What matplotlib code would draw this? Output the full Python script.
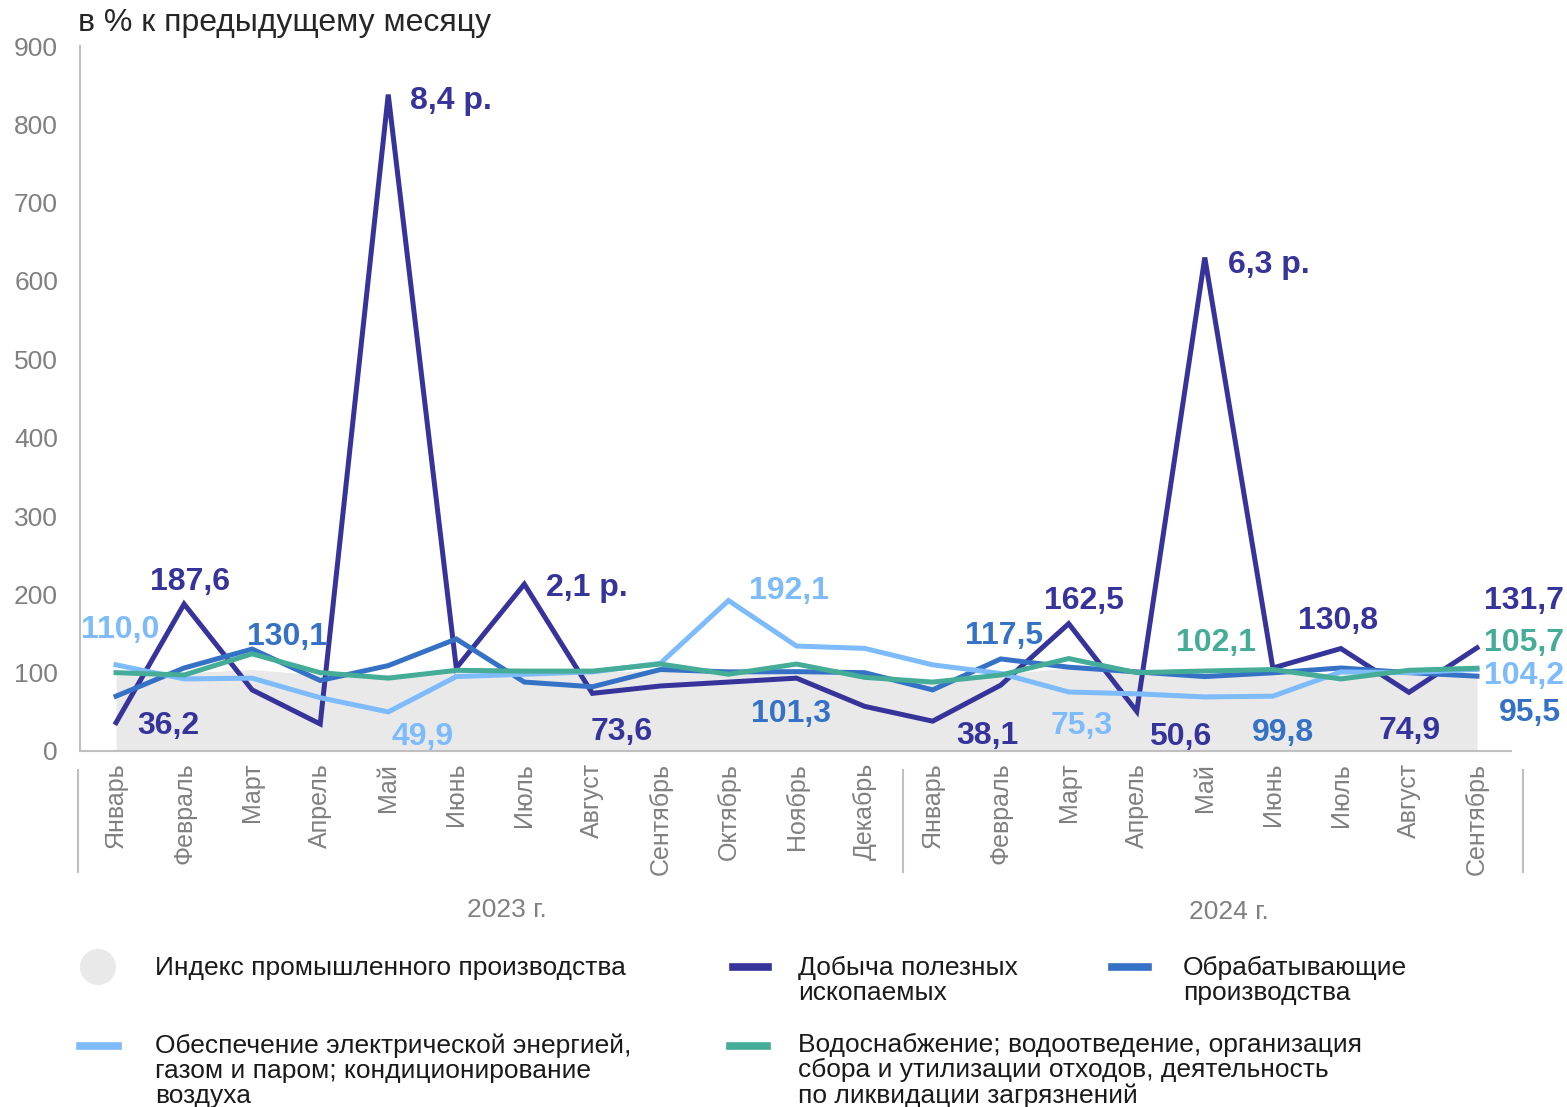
import matplotlib
matplotlib.use("Agg")
import matplotlib.pyplot as plt
from matplotlib.lines import Line2D
from matplotlib.patches import Ellipse
import matplotlib.transforms as mtransforms

plt.rcParams['font.family'] = ['Liberation Sans', 'DejaVu Sans']

months = ["Январь", "Февраль", "Март", "Апрель", "Май", "Июнь", "Июль", "Август",
          "Сентябрь", "Октябрь", "Ноябрь", "Декабрь",
          "Январь", "Февраль", "Март", "Апрель", "Май", "Июнь", "Июль", "Август", "Сентябрь"]
years = ["2023 г.", "2024 г."]

index_ipp = [97, 100, 104, 97, 98, 102, 100, 101, 103, 101, 100, 101,
             88, 98, 106, 100, 99, 102, 99, 101, 100]
mining = [36.2, 187.6, 78, 34.5, 838, 106, 213, 73.6, 83, 88, 93, 57,
          38.1, 84, 162.5, 50.6, 630, 106, 130.8, 74.9, 131.7]
manufacturing = [70, 106, 130.1, 90, 109, 143, 88, 82, 104, 101, 101.3, 100,
                 78, 117.5, 107, 101, 95, 99.8, 106, 100, 95.5]
electricity = [110.0, 92, 93, 68, 49.9, 95, 98, 101, 112, 192.1, 134, 131,
               110, 99, 75.3, 73, 69, 70, 101, 100, 104.2]
water = [100, 97, 124, 100, 93, 103, 102, 102, 111, 98, 111, 94,
         88, 97, 118, 100, 102.1, 104, 92, 103, 105.7]

series_names = ["Индекс промышленного производства",
                "Добыча полезных\nископаемых",
                "Обрабатывающие\nпроизводства",
                "Обеспечение электрической энергией,\nгазом и паром; кондиционирование\nвоздуха",
                "Водоснабжение; водоотведение, организация\nсбора и утилизации отходов, деятельность\nпо ликвидации загрязнений"]

C_IDX = "#E9E9E9"
C_MIN = "#36349A"
C_MAN = "#3572C5"
C_ELE = "#7DBBFB"
C_WAT = "#45AC97"
C_GRAY = "#808080"
C_AX = "#BFBFBF"

W, H = 1567, 1107
fig = plt.figure(figsize=(W / 100, H / 100), dpi=100)
ax = fig.add_axes([80 / W, (H - 751) / H, (1511 - 80) / W, (751 - 46) / H])

x = list(range(len(months)))
ax.fill_between(x, 0, index_ipp, color=C_IDX, lw=0, zorder=1)
lw = 3.6
ax.plot(x, mining, color=C_MIN, lw=lw, zorder=3, solid_joinstyle='miter')
ax.plot(x, manufacturing, color=C_MAN, lw=lw, zorder=4, solid_joinstyle='miter')
ax.plot(x, electricity, color=C_ELE, lw=lw, zorder=5, solid_joinstyle='miter')
ax.plot(x, water, color=C_WAT, lw=lw, zorder=6, solid_joinstyle='miter')

ax.set_xlim(-0.53, 20.5)
ax.set_ylim(0, 900)
ax.set_yticks(range(0, 901, 100))
ax.tick_params(axis='y', length=0, pad=15.8, labelsize=19, labelcolor=C_GRAY)
ax.set_xticks(x)
ax.set_xticklabels(months, rotation=90, va='top', ha='center')
ax.tick_params(axis='x', length=0, pad=8.5, labelsize=18, labelcolor=C_GRAY)
for s in ['top', 'right']:
    ax.spines[s].set_visible(False)
for s in ['left', 'bottom']:
    ax.spines[s].set_color(C_AX)
    ax.spines[s].set_linewidth(1.5)

# group separators
trans = mtransforms.blended_transform_factory(ax.transData, ax.transAxes)
for xs in [-0.56, 11.57, 20.68]:
    ax.add_line(Line2D([xs, xs], [-0.027, -0.172], transform=trans, color=C_AX,
                       lw=1.5, clip_on=False))
ax.text(5.75, -0.225, years[0], transform=trans, ha='center', va='center',
        fontsize=19, color=C_GRAY)
ax.text(16.36, -0.228, years[1], transform=trans, ha='center', va='center',
        fontsize=19, color=C_GRAY)

# data labels: (text, series, index, dx, dy, color, ha)
labels = [
    ("187,6", mining, 1, 6, 25, C_MIN, 'center'),
    ("36,2", mining, 0, 52, 0, C_MIN, 'center'),
    ("110,0", electricity, 0, 4, 38, C_ELE, 'center'),
    ("130,1", manufacturing, 2, 35, 15, C_MAN, 'center'),
    ("49,9", electricity, 4, 34, -22, C_ELE, 'center'),
    ("8,4 р.", mining, 4, 22, -3, C_MIN, 'left'),
    ("2,1 р.", mining, 6, 22, -1, C_MIN, 'left'),
    ("73,6", mining, 7, 29, -36, C_MIN, 'center'),
    ("192,1", electricity, 9, 60, 13, C_ELE, 'center'),
    ("101,3", manufacturing, 10, -6, -39, C_MAN, 'center'),
    ("117,5", manufacturing, 13, 3, 26, C_MAN, 'center'),
    ("162,5", mining, 14, 15, 26, C_MIN, 'center'),
    ("38,1", mining, 12, 55, -12, C_MIN, 'center'),
    ("75,3", electricity, 14, 13, -31, C_ELE, 'center'),
    ("102,1", water, 16, 11, 31, C_WAT, 'center'),
    ("50,6", mining, 15, 43, -23, C_MIN, 'center'),
    ("6,3 р.", mining, 16, 23, -4, C_MIN, 'left'),
    ("99,8", manufacturing, 17, 10, -57, C_MAN, 'center'),
    ("130,8", mining, 18, -3, 31, C_MIN, 'center'),
    ("74,9", mining, 19, 1, -36, C_MIN, 'center'),
    ("131,7", mining, 20, 47, 50, C_MIN, 'center'),
    ("105,7", water, 20, 47, 28, C_WAT, 'center'),
    ("104,2", electricity, 20, 47, -4, C_ELE, 'center'),
    ("95,5", manufacturing, 20, 53, -34, C_MAN, 'center'),
]
for txt, ser, i, dx, dy, col, ha in labels:
    ax.annotate(txt, xy=(i, ser[i]), xytext=(dx, dy - 3), textcoords='offset pixels',
                ha=ha, va='center', fontsize=23, fontweight='bold', color=col,
                zorder=10, annotation_clip=False)

# title
fig.text(78 / W, 1 - 23 / H, "в % к предыдущему месяцу", ha='left', va='center',
         fontsize=23, color="#262626")

# legend (manual)
LEG_FS = 19
fig.patches.append(Ellipse((98 / W, 1 - 967 / H), 36 / W, 36 / H,
                           transform=fig.transFigure, color=C_IDX, lw=0))
leg_items = [
    (None, 155, 956, series_names[0]),
    (C_MIN, 798, 956, series_names[1]),
    (C_MAN, 1183, 956, series_names[2]),
    (C_ELE, 155, 1033, series_names[3]),
    (C_WAT, 798, 1033, series_names[4]),
]
seg = {C_MIN: (733, 768, 967), C_MAN: (1112, 1148, 967),
       C_ELE: (80, 118, 1046), C_WAT: (730, 767, 1046)}
for col, tx, ty, name in leg_items:
    if col is not None:
        x0, x1, yy = seg[col]
        fig.add_artist(Line2D([x0 / W, x1 / W], [1 - yy / H, 1 - yy / H],
                              transform=fig.transFigure, color=col, lw=5.5))
    fig.text(tx / W, 1 - ty / H, name, ha='left', va='top', fontsize=LEG_FS,
             color="#1a1a1a", linespacing=1.07)

fig.savefig("out.png", dpi=100)
